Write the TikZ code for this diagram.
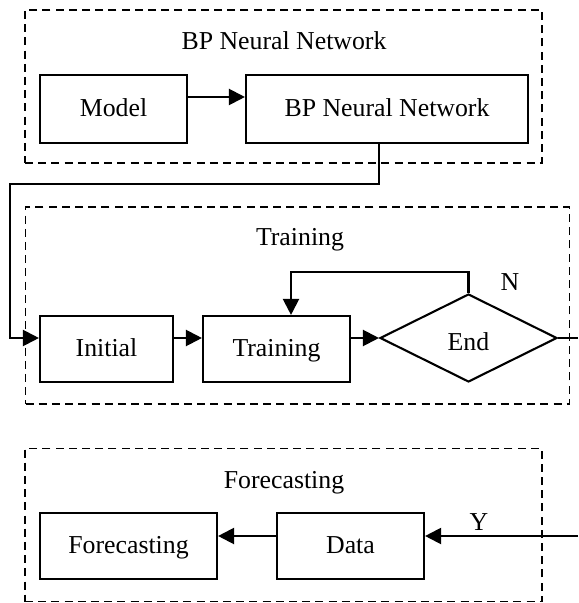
\documentclass[tikz,border=0pt]{standalone}
\usepackage{fontspec}
\setmainfont{Liberation Serif}
\usetikzlibrary{arrows.meta,shapes.geometric,calc}
\begin{document}
\begin{tikzpicture}[x=0.5pt,y=-0.5pt,
  every node/.style={font=\fontsize{12.9pt}{15pt}\selectfont,text height=0.88em,text depth=0.14em},
  box/.style={draw,line width=1.05pt,minimum width=#1,minimum height=33pt,inner sep=0pt},
  grp/.style={draw,line width=0.8pt,dash pattern=on 4pt off 2.6pt,inner sep=0pt},
  ln/.style={line width=1.05pt},
  arr/.style={ln,-{Triangle[length=8pt,width=8pt]}},
  ttl/.style={inner sep=0pt}]
\useasboundingbox (0,0) rectangle (578,603);
% group frames
\node[grp,minimum width=258.5pt,minimum height=76.5pt] (g1) at (283.5,86.5) {};
\node[grp,minimum width=272pt,minimum height=98.5pt] (g2) at (297.5,305.5) {};
\node[grp,minimum width=258.5pt,minimum height=76.5pt] (g3) at (283.5,525) {};
% titles
\node[ttl] (t1) at (284,42.5) {BP Neural Network};
\node[ttl] (t2) at (300,238.5) {Training};
\node[ttl] (t3) at (284,481) {Forecasting};
% boxes
\node[box=73.5pt,minimum height=34pt] (model) at (113.5,109) {Model};
\node[box=141pt,minimum height=34pt] (bpnn) at (387,109) {BP Neural Network};
\node[box=66.5pt] (init) at (106.5,349) {Initial};
\node[box=73.5pt] (train) at (276.5,349) {Training};
\node[draw,diamond,line width=1.05pt,aspect=2,minimum width=88.5pt,minimum height=44pt,inner sep=0pt] (endd) at (468.5,338) {};
\node[inner sep=0pt] (endtxt) at (468.5,343.5) {End};
\node[box=88.5pt] (fore) at (128.5,546) {Forecasting};
\node[box=73.5pt] (data) at (350.5,546) {Data};
% labels
\node[inner sep=0pt] (nlab) at (510,283) {N};
\node[inner sep=0pt] (ylab) at (479,523) {Y};
% helper coordinates
\coordinate (ay) at (0,97);
\coordinate (rowy) at (0,338);
\coordinate (c1) at (379,184);
\coordinate (c2) at (10,184);
\coordinate (fbx) at (291,272);
\coordinate (outr) at (578,338);
\coordinate (inr) at (578,536);
% connectors
\draw[arr] (model.east |- ay) -- (bpnn.west |- ay);
\draw[arr] (bpnn.south -| c1) -- (c1) -- (c2) |- (init.west |- rowy);
\draw[arr] (init.east |- rowy) -- (train.west |- rowy);
\draw[arr] (train.east |- rowy) -- (endd.west);
\draw[arr] (endd.north) |- (fbx) -- (train.north -| fbx);
\draw[ln] (endd.east) -- (outr);
\draw[arr] (inr) -- (data.east |- inr);
\draw[arr] (data.west |- inr) -- (fore.east |- inr);
\end{tikzpicture}
\end{document}
